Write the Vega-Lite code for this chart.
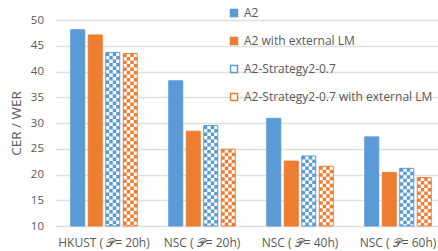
{
  "$schema": "https://vega.github.io/schema/vega-lite/v6.json",
  "autosize": "none",
  "padding": {"left": 55, "top": 20, "right": 0, "bottom": 25},
  "width": 383,
  "height": 206,
  "background": "white",
  "config": {
    "view": {"stroke": null},
    "font": "Open Sans",
    "axis": {"labelFont": "Open Sans", "titleFont": "Open Sans", "labelColor": "#595959", "titleColor": "#595959", "labelFontSize": 12, "titleFontSize": 12, "titleFontWeight": "normal"},
    "axisX": {"domain": false, "ticks": false, "labelAngle": 0, "labelPadding": 11, "grid": false, "title": null},
    "legend": {"labelFont": "Open Sans", "labelColor": "#595959", "labelFontSize": 12, "labelLimit": 0}
  },
  "data": {"values": [
    {"group": "HKUST ( 𝒫= 20h)", "series": "A2", "value": 48.1},
    {"group": "HKUST ( 𝒫= 20h)", "series": "A2 with external LM", "value": 47.1},
    {"group": "HKUST ( 𝒫= 20h)", "series": "A2-Strategy2-0.7", "value": 43.7},
    {"group": "HKUST ( 𝒫= 20h)", "series": "A2-Strategy2-0.7 with external LM", "value": 43.5},
    {"group": "NSC ( 𝒫= 20h)", "series": "A2", "value": 38.2},
    {"group": "NSC ( 𝒫= 20h)", "series": "A2 with external LM", "value": 28.4},
    {"group": "NSC ( 𝒫= 20h)", "series": "A2-Strategy2-0.7", "value": 29.5},
    {"group": "NSC ( 𝒫= 20h)", "series": "A2-Strategy2-0.7 with external LM", "value": 24.9},
    {"group": "NSC ( 𝒫= 40h)", "series": "A2", "value": 30.9},
    {"group": "NSC ( 𝒫= 40h)", "series": "A2 with external LM", "value": 22.6},
    {"group": "NSC ( 𝒫= 40h)", "series": "A2-Strategy2-0.7", "value": 23.6},
    {"group": "NSC ( 𝒫= 40h)", "series": "A2-Strategy2-0.7 with external LM", "value": 21.6},
    {"group": "NSC ( 𝒫= 60h)", "series": "A2", "value": 27.3},
    {"group": "NSC ( 𝒫= 60h)", "series": "A2 with external LM", "value": 20.4},
    {"group": "NSC ( 𝒫= 60h)", "series": "A2-Strategy2-0.7", "value": 21.2},
    {"group": "NSC ( 𝒫= 60h)", "series": "A2-Strategy2-0.7 with external LM", "value": 19.4}
  ]},
  "encoding": {
    "x": {"field": "group", "type": "nominal", "sort": null, "title": null,
      "scale": {"range": [0, 392], "paddingInner": 0, "paddingOuter": 0}},
    "y": {"field": "value", "type": "quantitative", "title": "CER / WER",
      "scale": {"domain": [10, 50], "nice": false, "zero": false},
      "axis": {"values": [10, 15, 20, 25, 30, 35, 40, 45, 50], "domain": false, "ticks": false, "labelPadding": 11.5, "labelFontSize": 11.5, "titleFontSize": 13.5, "titlePadding": 7, "gridColor": "#e0e0e0", "gridWidth": 1.5}}
  },
  "layer": [
    {
      "mark": {"type": "bar", "strokeWidth": 1},
      "encoding": {
        "xOffset": {"field": "series", "type": "nominal", "sort": ["A2", "A2 with external LM", "A2-Strategy2-0.7", "A2-Strategy2-0.7 with external LM"], "scale": {"paddingInner": 0.2, "paddingOuter": 0.9}},
        "y2": {"datum": 10},
        "fill": {"field": "series", "type": "nominal", "title": null,
          "scale": {"domain": ["A2", "A2 with external LM", "A2-Strategy2-0.7", "A2-Strategy2-0.7 with external LM"], "range": ["#5B9BD5", "#ED7D31", "#ffffff", "#ffffff"]},
          "legend": {"orient": "none", "legendX": 173, "legendY": -13, "padding": 0, "symbolType": "square", "symbolSize": 49, "symbolStrokeWidth": 1.5, "labelOffset": 4, "rowPadding": 14}},
        "stroke": {"field": "series", "type": "nominal", "title": null,
          "scale": {"domain": ["A2", "A2 with external LM", "A2-Strategy2-0.7", "A2-Strategy2-0.7 with external LM"], "range": ["#5B9BD5", "#ED7D31", "#5B9BD5", "#ED7D31"]},
          "legend": {"orient": "none", "legendX": 173, "legendY": -13, "padding": 0, "symbolType": "square", "symbolSize": 49, "symbolStrokeWidth": 1.5, "labelOffset": 4, "rowPadding": 14}}
      }
    },
    {"transform": [{"filter": "datum.series === 'A2-Strategy2-0.7'"}],
     "mark": {"type": "rule", "stroke": "#5B9BD5", "strokeWidth": 3.5, "strokeDash": [3.5, 3.5], "strokeDashOffset": 0},
     "encoding": {"x": {"field": "group", "type": "nominal", "sort": null, "title": null, "bandPosition": 0.535714}, "y2": {"datum": 10}}},
    {"transform": [{"filter": "datum.series === 'A2-Strategy2-0.7'"}],
     "mark": {"type": "rule", "stroke": "#5B9BD5", "strokeWidth": 3.5, "strokeDash": [3.5, 3.5], "strokeDashOffset": 3.5},
     "encoding": {"x": {"field": "group", "type": "nominal", "sort": null, "title": null, "bandPosition": 0.571429}, "y2": {"datum": 10}}},
    {"transform": [{"filter": "datum.series === 'A2-Strategy2-0.7'"}],
     "mark": {"type": "rule", "stroke": "#5B9BD5", "strokeWidth": 3.5, "strokeDash": [3.5, 3.5], "strokeDashOffset": 0},
     "encoding": {"x": {"field": "group", "type": "nominal", "sort": null, "title": null, "bandPosition": 0.607143}, "y2": {"datum": 10}}},
    {"transform": [{"filter": "datum.series === 'A2-Strategy2-0.7'"}],
     "mark": {"type": "rule", "stroke": "#5B9BD5", "strokeWidth": 3.5, "strokeDash": [3.5, 3.5], "strokeDashOffset": 3.5},
     "encoding": {"x": {"field": "group", "type": "nominal", "sort": null, "title": null, "bandPosition": 0.642857}, "y2": {"datum": 10}}},
    {"transform": [{"filter": "datum.series === 'A2-Strategy2-0.7 with external LM'"}],
     "mark": {"type": "rule", "stroke": "#ED7D31", "strokeWidth": 3.5, "strokeDash": [3.5, 3.5], "strokeDashOffset": 0},
     "encoding": {"x": {"field": "group", "type": "nominal", "sort": null, "title": null, "bandPosition": 0.714286}, "y2": {"datum": 10}}},
    {"transform": [{"filter": "datum.series === 'A2-Strategy2-0.7 with external LM'"}],
     "mark": {"type": "rule", "stroke": "#ED7D31", "strokeWidth": 3.5, "strokeDash": [3.5, 3.5], "strokeDashOffset": 3.5},
     "encoding": {"x": {"field": "group", "type": "nominal", "sort": null, "title": null, "bandPosition": 0.75}, "y2": {"datum": 10}}},
    {"transform": [{"filter": "datum.series === 'A2-Strategy2-0.7 with external LM'"}],
     "mark": {"type": "rule", "stroke": "#ED7D31", "strokeWidth": 3.5, "strokeDash": [3.5, 3.5], "strokeDashOffset": 0},
     "encoding": {"x": {"field": "group", "type": "nominal", "sort": null, "title": null, "bandPosition": 0.785714}, "y2": {"datum": 10}}},
    {"transform": [{"filter": "datum.series === 'A2-Strategy2-0.7 with external LM'"}],
     "mark": {"type": "rule", "stroke": "#ED7D31", "strokeWidth": 3.5, "strokeDash": [3.5, 3.5], "strokeDashOffset": 3.5},
     "encoding": {"x": {"field": "group", "type": "nominal", "sort": null, "title": null, "bandPosition": 0.821429}, "y2": {"datum": 10}}}
  ]
}
